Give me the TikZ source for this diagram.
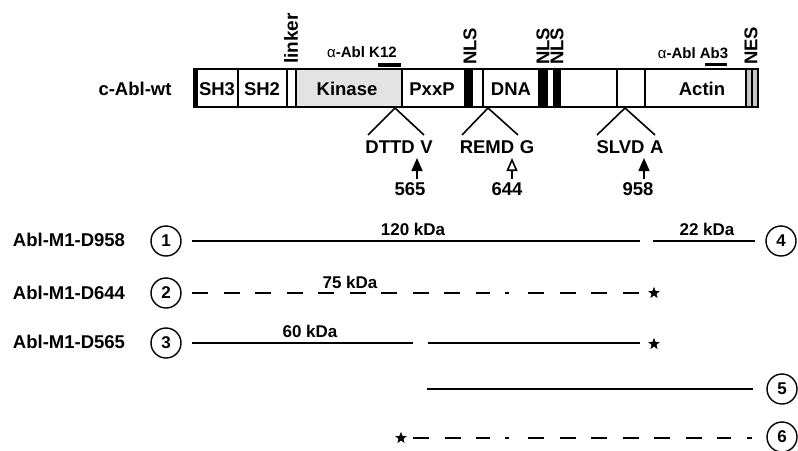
\documentclass[tikz,border=0pt]{standalone}
\usepackage{fontspec}
\setmainfont{Liberation Sans}
\usetikzlibrary{positioning, shapes.geometric, arrows.meta}

\begin{document}
\begin{tikzpicture}[x=1pt, y=-1pt,
    every node/.style={font=\bfseries\fontsize{18.5}{20}\selectfont},
    dom/.style={line width=1.8pt},
    sep/.style={line width=1.3pt},
    site/.style={line width=1.6pt},
    frag/.style={line width=1.6pt},
    fragdash/.style={line width=1.6pt, dash pattern=on 16pt off 15.5pt},
    numc/.style={circle, draw, line width=1.4pt, minimum size=30pt, inner sep=0pt,
                 font=\bfseries\fontsize{17}{17}\selectfont},
    starmark/.style={star, star points=5, star point ratio=2.4, fill, draw,
                     inner sep=0pt, minimum size=11pt},
    kda/.style={font=\bfseries\fontsize{17}{19}\selectfont},
    vlabel/.style={rotate=90, anchor=west, inner sep=0pt},
    ablab/.style={font=\bfseries\fontsize{15}{17}\selectfont}]
    \useasboundingbox (0,0) rectangle (798,450);

    % Protein bar: fills first
    \fill[gray!22] (296,69) rectangle (402,107);          % kinase
    \fill (194,69) rectangle (197.5,107);                 % N-terminal cap
    \fill (464,69) rectangle (473,107);                   % NLS
    \fill (540,69) rectangle (548,107);                   % NLS
    \fill (553,69) rectangle (561,107);                   % NLS
    \fill[gray!45] (746,69) rectangle (758,107);          % NES

    % Domain borders
    \foreach \x in {238,287,296,402,483,539,617,645,746,752} {
        \draw[sep] (\x,69) -- (\x,107);
    }
    \draw[dom] (194,69) rectangle (758,107);

    % Domain names
    \node[left] (wt) at (175,89) {c-Abl-wt};
    \node (sh3) at (217,89) {SH3};
    \node (sh2) at (262,89) {SH2};
    \node (kin) at (347,89) {Kinase};
    \node (pxxp) at (432,89) {PxxP};
    \node (dna) at (511,89) {DNA};
    \node (actin) at (702,89) {Actin};

    % Labels on top
    \node[vlabel, font=\bfseries\fontsize{19}{21}\selectfont] (linker) at (291,64) {linker};
    \node[vlabel] (nls1) at (470,65) {NLS};
    \node[vlabel] (nls2) at (543,65) {NLS};
    \node[vlabel] (nls3) at (557,65) {NLS};
    \node[vlabel] (nes) at (751,65) {NES};

    % Antibody epitopes
    \node[ablab] (k12) at (362,52) {{\mdseries α}-Abl K12};
    \draw[line width=3.5pt] (378,65) -- (401,65);
    \node[ablab] (ab3) at (693,53) {{\mdseries α}-Abl Ab3};
    \draw[line width=3.5pt] (705,64.5) -- (727,64.5);

    % Cleavage site 565
    \coordinate (a565) at (395,108);
    \coordinate (l565) at (368,135);
    \coordinate (r565) at (424,135);
    \draw[site] (l565) -- (a565) -- (r565);
    \node (s565) at (399,147) {DTTD\hspace{0.3em}V};
    \node (n565) at (410,189) {565};
    \coordinate (t565) at (417,158);
    \draw[site, -{Triangle[length=13pt, width=11pt]}] (n565.north -| t565) -- (t565);

    % Cleavage site 644
    \coordinate (a644) at (488,108);
    \coordinate (l644) at (462,135);
    \coordinate (r644) at (518,135);
    \draw[site] (l644) -- (a644) -- (r644);
    \node (s644) at (497,147) {REMD\hspace{0.3em}G};
    \node (n644) at (507,189) {644};
    \coordinate (t644) at (512,158);
    \draw[site, -{Triangle[open, length=13pt, width=11pt]}] (n644.north -| t644) -- (t644);

    % Cleavage site 958
    \coordinate (a958) at (625,108);
    \coordinate (l958) at (597,135);
    \coordinate (r958) at (655,135);
    \draw[site] (l958) -- (a958) -- (r958);
    \node (s958) at (630,147) {SLVD\hspace{0.3em}A};
    \node (n958) at (638,189) {958};
    \coordinate (t958) at (644,158);
    \draw[site, -{Triangle[length=13pt, width=11pt]}] (n958.north -| t958) -- (t958);

    % Row 1: Abl-M1-D958
    \node (m958) at (69,240) {Abl-M1-D958};
    \node[numc] (c1) at (166,241) {1};
    \draw[frag] (192,241) -- (640,241);
    \draw[frag] (653,241) -- (755,241);
    \node[kda] (kd120) at (413,229) {120 kDa};
    \node[kda] (kd22) at (707,229) {22 kDa};
    \node[numc] (c4) at (781,241) {4};

    % Row 2: Abl-M1-D644
    \node (m644) at (69,293) {Abl-M1-D644};
    \node[numc] (c2) at (166,293) {2};
    \draw[fragdash] (192,293) -- (490,293);
    \draw[frag] (505,293) -- (509,293);
    \draw[fragdash] (528,293) -- (642,293);
    \node[kda] (kd75) at (350,282) {75 kDa};
    \node[starmark] (st2) at (654,293) {};

    % Row 3: Abl-M1-D565
    \node (m565) at (69,342) {Abl-M1-D565};
    \node[numc] (c3) at (166,343) {3};
    \draw[frag] (192,343) -- (413,343);
    \draw[frag] (428,343) -- (640,343);
    \node[kda] (kd60) at (310,331) {60 kDa};
    \node[starmark] (st3) at (654,344) {};

    % Row 4: C-terminal fragment
    \draw[frag] (427,389) -- (753,389);
    \node[numc] (c5) at (782,389) {5};

    % Row 5: C-terminal fragment, dashed
    \node[starmark] (st6) at (401,438) {};
    \draw[fragdash] (413,438) -- (490,438);
    \draw[frag] (505,438) -- (509,438);
    \draw[fragdash] (528,438) -- (731,438);
    \draw[frag] (747,438) -- (752,438);
    \node[numc] (c6) at (782,437) {6};

\end{tikzpicture}
\end{document}
